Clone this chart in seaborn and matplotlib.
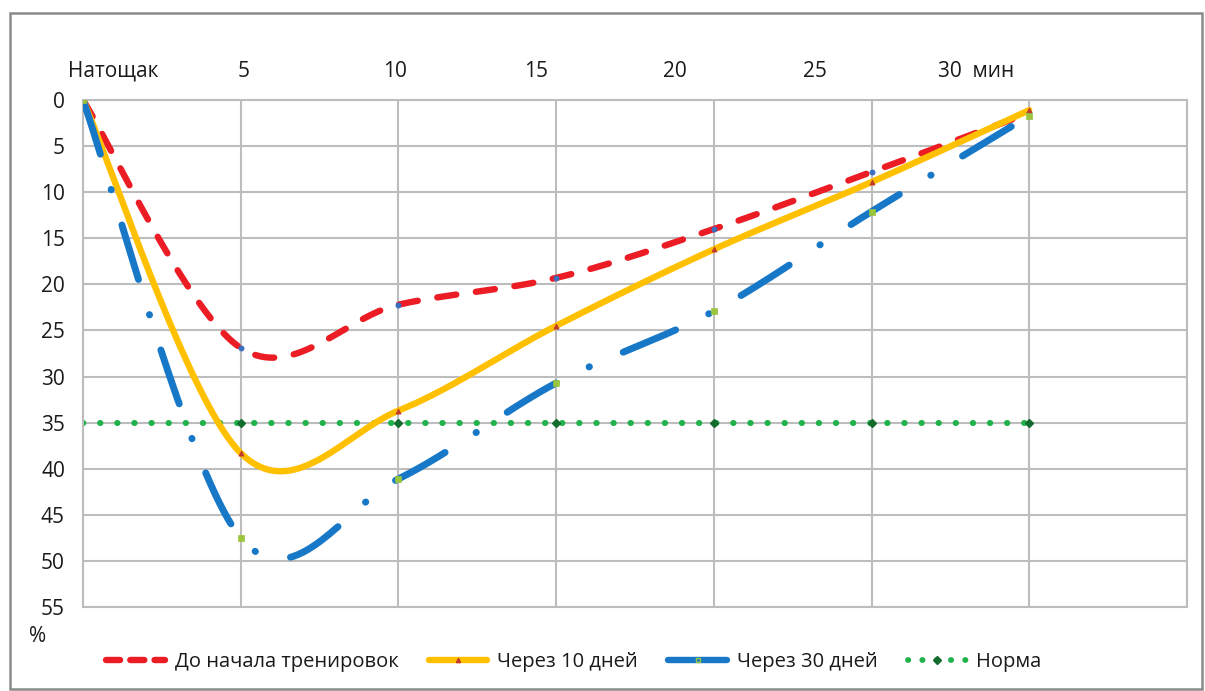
import numpy as np
import matplotlib
matplotlib.use("Agg")
import matplotlib.pyplot as plt
import seaborn as sns
from matplotlib.lines import Line2D
from matplotlib.patches import Rectangle

# Данные (по картинке)
x_pos = [0, 1, 2, 3, 4, 5, 6]
top_labels = ["Натощак", "5", "10", "15", "20", "25", "30  мин"]
label_pos = [0.19, 1.02, 1.98, 2.87, 3.75, 4.64, 5.66]
do_nachala = [0, 26.9, 22.2, 19.3, 14.0, 7.8, 1.4]
cherez_10 = [0, 38.3, 33.7, 24.5, 16.2, 8.9, 1.1]
cherez_30 = [0, 47.5, 41.1, 30.7, 22.9, 12.1, 1.7]
norma = [35, 35, 35, 35, 35, 35, 35]

RED = "#EC1C24"
YELLOW = "#FFC000"
BLUE = "#1878C8"
GREEN = "#22B24C"
GRID = "#BDBDBD"
TXT = "#1A1A1A"
FS = 15


def excel_smooth(xs, ys, n=40):
    # сглаживание как в Excel (Безье по Катмулл-Рому)
    pts = np.column_stack([xs, ys]).astype(float)
    out = []
    for i in range(len(pts) - 1):
        p0 = pts[i - 1] if i > 0 else pts[i]
        p1, p2 = pts[i], pts[i + 1]
        p3 = pts[i + 2] if i + 2 < len(pts) else pts[i + 1]
        c1 = p1 + (p2 - p0) / 6
        c2 = p2 - (p3 - p1) / 6
        t = np.linspace(0, 1, n)[:, None]
        seg = (1 - t) ** 3 * p1 + 3 * (1 - t) ** 2 * t * c1 + 3 * (1 - t) * t ** 2 * c2 + t ** 3 * p2
        out.append(seg if i == 0 else seg[1:])
    return np.vstack(out)


sns.set_style("white")
plt.rcParams["font.family"] = ["Open Sans", "DejaVu Sans"]

W, H = 1205, 691
fig = plt.figure(figsize=(W / 100, H / 100), dpi=100)
ax = fig.add_axes([83 / W, (H - 607) / H, (1187 - 83) / W, (607 - 100) / H])

# сетка
for xv in range(0, 8):
    ax.axvline(xv, color=GRID, lw=1.5, zorder=0)
for yv in range(0, 56, 5):
    ax.axhline(yv, color=GRID, lw=1.5, zorder=0)

# норма
ax.plot(x_pos, norma, color=GREEN, lw=4.4, linestyle=(0, (0.05, 2.75)),
        dash_capstyle="round", zorder=2)
ax.plot(x_pos[1:], norma[1:], linestyle="none", marker="D", ms=4.5, color="#146B2E", zorder=3)

# кривые
series = [
    (do_nachala, RED, (0, (3.0, 3.1)), 4.6, "o", "#3A6FC0"),
    (cherez_10, YELLOW, "-", 4.6, "^", "#C0392B"),
    (cherez_30, BLUE, (0, (8.2, 5.3, 0.05, 5.3)), 5.0, "s", "#9BC53D"),
]
for ys, col, ls, lw, mk, mcol in series:
    sm = excel_smooth(x_pos, ys)
    sns.lineplot(x=sm[:, 0], y=sm[:, 1], sort=False, ax=ax, color=col, lw=lw,
                 linestyle=ls, dash_capstyle="round", solid_capstyle="round", zorder=4)
    sns.scatterplot(x=x_pos, y=ys, ax=ax, marker=mk, s=14, color=mcol,
                    edgecolor=mcol, linewidth=0.5, zorder=5)

ax.set_xlim(0, 7)
ax.set_ylim(55, 0)
ax.set_yticks(range(0, 56, 5))
ax.set_xticks([])
ax.set_xticks(label_pos, minor=True)
ax.set_xticklabels(top_labels, minor=True)
ax.xaxis.tick_top()
ax.tick_params(axis="x", which="both", length=0, pad=13, labelsize=FS, colors=TXT)
ax.tick_params(axis="y", length=0, pad=13, labelsize=FS, colors=TXT)
for s in ax.spines.values():
    s.set_color(GRID)
    s.set_linewidth(1.5)

fig.text(38 / W, 1 - 637 / H, "%", fontsize=FS, ha="center", va="center", color=TXT)

handles = [
    Line2D([], [], color=RED, lw=4.6, linestyle=(0, (2.2, 1.6)), dash_capstyle="round"),
    Line2D([], [], color=YELLOW, lw=4.6, marker="^", ms=3, mfc="#C0392B", mec="#C0392B"),
    Line2D([], [], color=BLUE, lw=4.6, marker="s", ms=3, mfc="none", mec="#9BC53D"),
    Line2D([], [], color=GREEN, lw=4.2, linestyle=(0, (0.05, 2.4)), dash_capstyle="round",
           marker="D", ms=4.5, mfc="#146B2E", mec="#146B2E"),
]
labels = ["До начала тренировок", "Через 10 дней", "Через 30 дней", "Норма"]
fig.legend(handles, labels, loc="center", bbox_to_anchor=(574 / W, 1 - 662 / H), ncol=4,
           frameon=False, fontsize=14.5, handlelength=2.9, handletextpad=0.5,
           columnspacing=1.5, numpoints=1, labelcolor=TXT)

fig.patches.append(Rectangle((10 / W, 2 / H), (W - 13) / W, (H - 15) / H, transform=fig.transFigure,
                             fill=False, edgecolor="#8A8A8A", lw=1.8))

fig.savefig("out.png", dpi=100)
